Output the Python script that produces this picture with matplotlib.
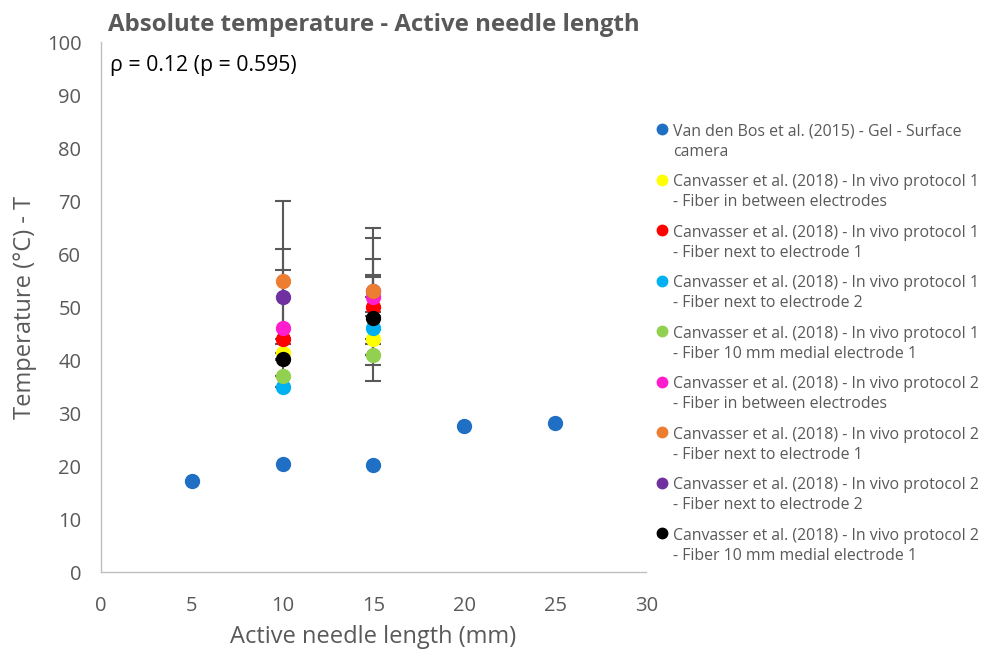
import matplotlib.pyplot as plt
from matplotlib.lines import Line2D

plt.rcParams['font.family'] = ['Open Sans', 'DejaVu Sans']

# Van den Bos (2015)
x_vdb = [5, 10, 15, 20, 25]
t_vdb = [17.2, 20.5, 20.3, 27.5, 28.1]

# Canvasser (2018) - needle lengths 10 and 15 mm
x_canv = [10, 15]
labels = [
    'Van den Bos et al. (2015) - Gel - Surface\ncamera',
    'Canvasser et al. (2018) - In vivo protocol 1\n- Fiber in between electrodes',
    'Canvasser et al. (2018) - In vivo protocol 1\n- Fiber next to electrode 1',
    'Canvasser et al. (2018) - In vivo protocol 1\n- Fiber next to electrode 2',
    'Canvasser et al. (2018) - In vivo protocol 1\n- Fiber 10 mm medial electrode 1',
    'Canvasser et al. (2018) - In vivo protocol 2\n- Fiber in between electrodes',
    'Canvasser et al. (2018) - In vivo protocol 2\n- Fiber next to electrode 1',
    'Canvasser et al. (2018) - In vivo protocol 2\n- Fiber next to electrode 2',
    'Canvasser et al. (2018) - In vivo protocol 2\n- Fiber 10 mm medial electrode 1',
]
colores = ['#1f6fc4', '#ffff00', '#ff0000', '#00b0f0', '#92d050',
           '#ff1dce', '#ed7d31', '#7030a0', '#000000']
t_canv = [
    [41.3, 44],   # p1 between
    [44, 50],     # p1 next 1
    [35, 46],     # p1 next 2
    [37, 41],     # p1 10 mm
    [46, 52],     # p2 between
    [55, 53],     # p2 next 1
    [52, 53],     # p2 next 2
    [40.2, 48],   # p2 10 mm
]
err_canv = [
    [0, 5],
    [0, 9],
    [0, 10],
    [0, 0],
    [11, 3.6],
    [15, 12],
    [9, 10],
    [0, 4],
]

fig = plt.figure(figsize=(9.88, 6.57), dpi=100)
ax = fig.add_axes([0.102, 0.129, 0.552, 0.807])

gris = '#595959'
ax.plot(x_vdb, t_vdb, 'o', color=colores[0], markersize=10, zorder=5)

# barras de error primero, detras de los puntos
for i in range(len(t_canv)):
    ax.errorbar(x_canv, t_canv[i], yerr=err_canv[i], fmt='none',
                ecolor=gris, elinewidth=1.5, capsize=6, capthick=1.5, zorder=2)

orden_z = [5, 5, 5, 5, 5, 6, 5.5, 7]
for i in range(len(t_canv)):
    ax.plot(x_canv, t_canv[i], 'o', color=colores[i + 1], markersize=10,
            zorder=orden_z[i])

ax.set_xlim(0, 30)
ax.set_ylim(0, 100)
ax.set_xticks(range(0, 31, 5))
ax.set_yticks(range(0, 101, 10))
ax.tick_params(length=0, labelsize=14.5, colors=gris)
ax.tick_params(axis='x', pad=17)
ax.tick_params(axis='y', pad=14)
for s in ['top', 'right']:
    ax.spines[s].set_visible(False)
for s in ['left', 'bottom']:
    ax.spines[s].set_color('#bfbfbf')
    ax.spines[s].set_linewidth(1)

ax.set_xlabel('Active needle length (mm)', fontsize=17, color=gris)
ax.set_ylabel('Temperature (°C) - T', fontsize=17, color=gris)
ax.xaxis.set_label_coords(0.5, -0.1)
ax.yaxis.set_label_coords(-0.117, 0.5)
ax.set_title('Absolute temperature - Active needle length', fontsize=17.3,
             fontweight='bold', color=gris, pad=8)
ax.text(0.016, 0.955, 'ρ = 0.12 (p = 0.595)', transform=ax.transAxes,
        fontsize=15.3, color='black', va='center')

# leyenda a mano: punto alineado con la primera linea del texto
W, H = 988, 657
for i in range(len(labels)):
    y_px = 129 + i * 50.5
    fig.add_artist(Line2D([662 / W], [1 - y_px / H], transform=fig.transFigure,
                          marker='o', markersize=7.5, color=colores[i], linestyle='none'))
    fig.text(673 / W, 1 - (y_px + 5.5 + 21.4) / H, labels[i], fontsize=11.4, color=gris,
             va='baseline', ha='left', linespacing=1.35)

fig.savefig('out.png', dpi=100)
